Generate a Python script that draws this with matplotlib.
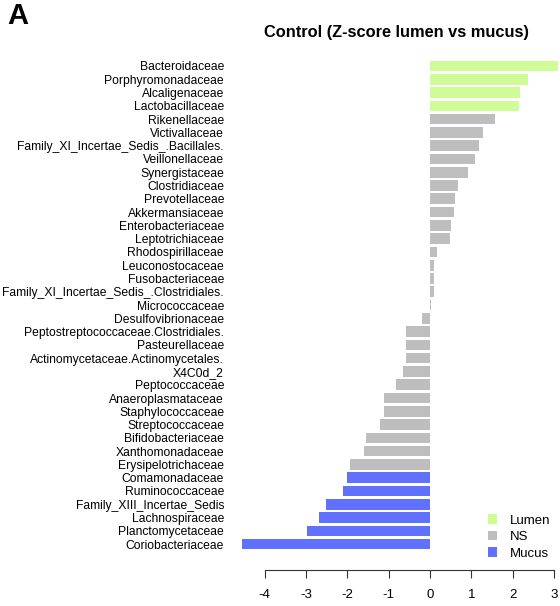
import matplotlib
import matplotlib.pyplot as plt
from matplotlib.patches import Patch

matplotlib.use("Agg")

families = [
    "Bacteroidaceae", "Porphyromonadaceae", "Alcaligenaceae", "Lactobacillaceae",
    "Rikenellaceae", "Victivallaceae", "Family_XI_Incertae_Sedis_.Bacillales.",
    "Veillonellaceae", "Synergistaceae", "Clostridiaceae", "Prevotellaceae",
    "Akkermansiaceae", "Enterobacteriaceae", "Leptotrichiaceae",
    "Rhodospirillaceae", "Leuconostocaceae", "Fusobacteriaceae",
    "Family_XI_Incertae_Sedis_.Clostridiales.", "Micrococcaceae",
    "Desulfovibrionaceae", "Peptostreptococcaceae.Clostridiales.",
    "Pasteurellaceae", "Actinomycetaceae.Actinomycetales.", "X4C0d_2",
    "Peptococcaceae", "Anaeroplasmataceae", "Staphylococcaceae",
    "Streptococcaceae", "Bifidobacteriaceae", "Xanthomonadaceae",
    "Erysipelotrichaceae", "Comamonadaceae", "Ruminococcaceae",
    "Family_XIII_Incertae_Sedis", "Lachnospiraceae", "Planctomycetaceae",
    "Coriobacteriaceae",
]
zscores = [
    3.10, 2.37, 2.19, 2.16, 1.58, 1.29, 1.19, 1.10, 0.93, 0.67, 0.61, 0.59,
    0.52, 0.49, 0.16, 0.10, 0.09, 0.09, 0.02, -0.19, -0.57, -0.57, -0.59,
    -0.65, -0.82, -1.11, -1.11, -1.21, -1.54, -1.60, -1.93, -2.01, -2.11,
    -2.52, -2.68, -2.97, -4.56,
]
groups = ["Lumen"] * 4 + ["NS"] * 27 + ["Mucus"] * 6

group_names = ["Lumen", "NS", "Mucus"]
group_colors = {"Lumen": "#d0fc98", "NS": "#bebebe", "Mucus": "#6070ff"}

plt.rcParams["font.family"] = ["Liberation Sans", "DejaVu Sans"]
plt.rcParams["axes.unicode_minus"] = False

fig = plt.figure(figsize=(5.6, 6.06), dpi=100)
ax = fig.add_axes([240.0 / 560, 1 - 557.4 / 606, 320.0 / 560, 504.7 / 606])

pos = list(range(len(families)))
ax.barh(pos, zscores, height=0.8,
        color=[group_colors[g] for g in groups], edgecolor="none")

ax.set_xlim(-4.6, 3.15)
ax.set_ylim(len(families), -1)

ax.set_yticks(pos)
ax.set_yticklabels(families, fontsize=8.7)
ax.tick_params(axis="y", length=0, pad=11.5)

ax.set_xticks(range(-4, 4))
ax.tick_params(axis="x", length=5.8, width=0.8, pad=8, labelsize=9.5,
               color="#333333")
for side in ["top", "right", "left"]:
    ax.spines[side].set_visible(False)
ax.spines["bottom"].set_position(("outward", 9))
ax.spines["bottom"].set_bounds(-4, 3)
ax.spines["bottom"].set_linewidth(0.8)
ax.spines["bottom"].set_color("#333333")

fig.text(397 / 560, 1 - 33 / 606, "Control (Z-score lumen vs mucus)",
         ha="center", va="center", fontsize=11.8, fontweight="bold")
fig.text(7 / 560, 1 - 16 / 606, "A", ha="left", va="center",
         fontsize=21, fontweight="bold")

handles = [Patch(facecolor=group_colors[g], edgecolor="none", label=g)
           for g in group_names]
fig.legend(handles=handles, loc="center left",
           bbox_to_anchor=(477 / 560, 1 - 537 / 606),
           frameon=False, fontsize=9.5, handlelength=0.75, handleheight=0.75,
           handletextpad=0.95, labelspacing=0.3, borderpad=0.3)

fig.savefig("out.png", dpi=100)
